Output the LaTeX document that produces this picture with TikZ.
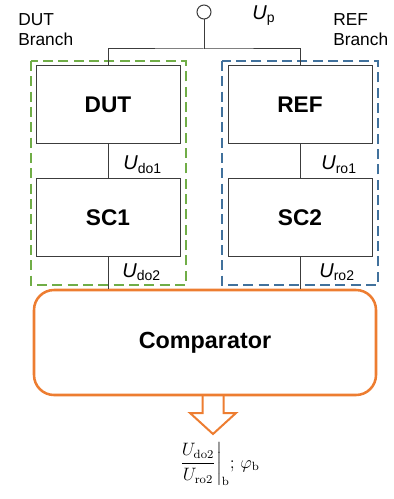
\documentclass[tikz,border=0pt]{standalone}
\usepackage{amsmath}
\usepackage{fontspec}
\setsansfont{Liberation Sans}
\usepackage{xcolor}
\usetikzlibrary{calc, positioning}

\definecolor{dutgreen}{RGB}{112,173,71}
\definecolor{refblue}{RGB}{65,113,156}
\definecolor{comporange}{RGB}{237,125,49}
\definecolor{linegray}{RGB}{60,60,60}

\begin{document}
\begin{tikzpicture}[x=0.75pt, y=-0.75pt,
    block/.style={draw=linegray, line width=0.75pt, minimum width=108pt,
        minimum height=58.5pt, font=\sffamily\bfseries\fontsize{17}{20}\selectfont},
    branchbox/.style={line width=1.5pt, dash pattern=on 7.5pt off 4pt},
    ulab/.style={anchor=base west, inner sep=0pt,
        font=\sffamily\fontsize{15}{18}\selectfont},
    branchlab/.style={anchor=north west, inner sep=0pt, align=left,
        font=\sffamily\fontsize{13}{15.5}\selectfont},
    wire/.style={draw=linegray, line width=0.75pt}]
    \useasboundingbox (0,0) rectangle (393,499);

    % Zweige
    \draw[branchbox, dutgreen] (31,61) rectangle (186,285);
    \draw[branchbox, refblue] (222,61) rectangle (378,285);
    \node[branchlab] (dutlab) at (18,13) {DUT\\Branch};
    \node[branchlab] (reflab) at (333,13) {REF\\Branch};

    % Bloecke
    \node[block] (dut) at (108,105) {DUT};
    \node[block] (sc1) at (108,217.5) {SC1};
    \node[block] (ref) at (300,105) {REF};
    \node[block] (sc2) at (300,217.5) {SC2};
    \node[draw=comporange, line width=1.9pt, rounded corners=15pt,
        minimum width=256.5pt, minimum height=78.75pt,
        font=\sffamily\bfseries\fontsize{17.5}{20}\selectfont]
        (comp) at (205,342.5) {Comparator};

    % Versorgung
    \node[circle, draw=linegray, line width=0.75pt, minimum size=10.5pt,
        inner sep=0pt] (term) at (204,12) {};
    \node[ulab] (uplab) at (252,20) {\textit{U}\textsubscript{p}};
    \coordinate (bus) at (204,49);
    \draw[wire] (term) -- (bus);
    \draw[wire] (dut.north) |- (bus) -| (ref.north);

    % Verbindungen
    \draw[wire] (dut) -- (sc1);
    \draw[wire] (ref) -- (sc2);
    \draw[wire] (sc1) -- (sc1 |- comp.north);
    \draw[wire] (sc2) -- (sc2 |- comp.north);
    \node[ulab] (udo1) at (123,170) {\textit{U}\textsubscript{do1}};
    \node[ulab] (uro1) at (321,170) {\textit{U}\textsubscript{ro1}};
    \node[ulab] (udo2) at (122,277) {\textit{U}\textsubscript{do2}};
    \node[ulab] (uro2) at (319,277) {\textit{U}\textsubscript{ro2}};

    % Ausgang
    \coordinate (out) at (213,395);
    \draw[comporange, line width=1.5pt, line join=miter]
        ($(out)+(-10.5,0)$) -- ++(0,18) -- ++(-12.5,0) -- ++(23,21)
        -- ++(23,-21) -- ++(-12.5,0) -- ++(0,-18);
    \node[font=\large, scale=1.12, inner sep=0pt] (ratio) at (219,464)
        {$\left.\dfrac{U_{\mathrm{do2}}}{U_{\mathrm{ro2}}}\right|_{\mathrm{b}}$; $\varphi_{\mathrm{b}}$};
\end{tikzpicture}
\end{document}
